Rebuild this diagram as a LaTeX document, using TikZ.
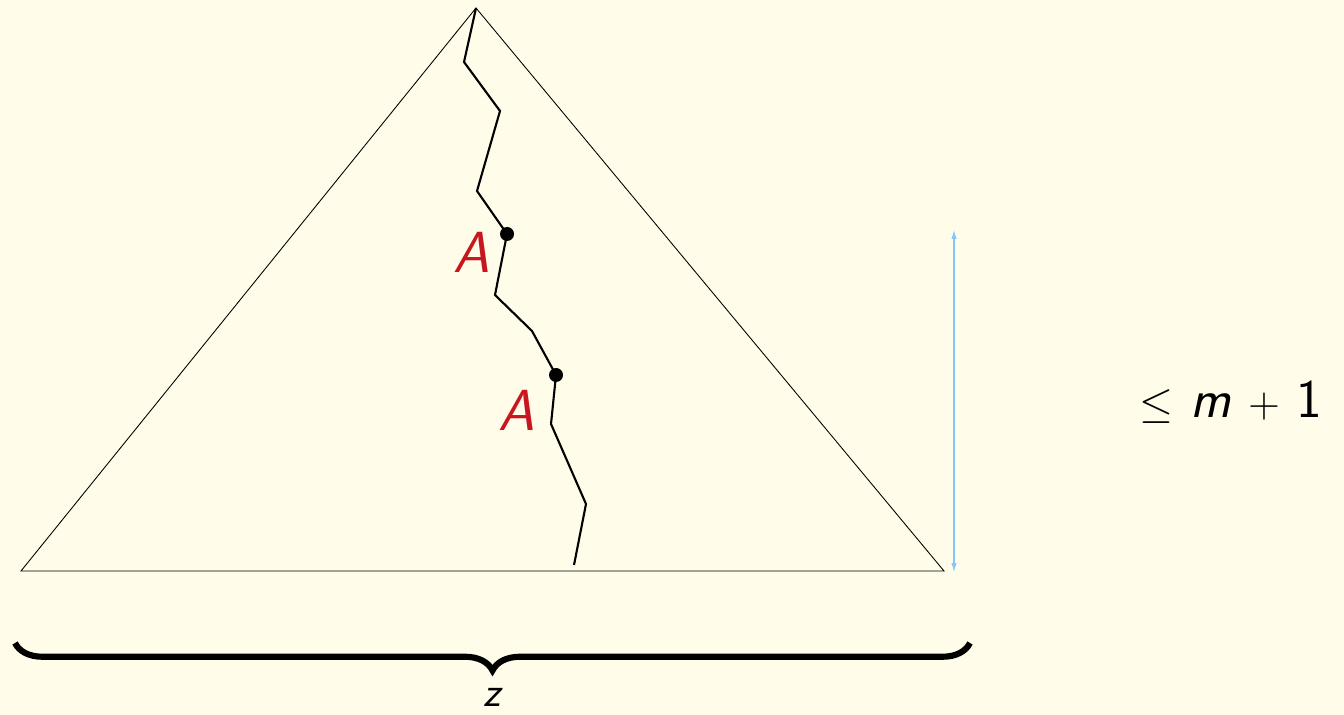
\documentclass[tikz,border=0pt]{standalone}
\usetikzlibrary{decorations.pathreplacing,arrows.meta}
\definecolor{bg}{RGB}{255,252,233}
\definecolor{ared}{RGB}{200,22,32}
\definecolor{ablue}{RGB}{130,200,255}
\begin{document}
\begin{tikzpicture}[x=0.02cm,y=-0.02cm,
  tri/.style={draw=black,line width=0.5pt},
  walk/.style={draw=black,line width=1.2pt,line join=miter},
  dotm/.style={circle,fill=black,inner sep=0pt,minimum size=0.28cm},
  lab/.style={text=ared,font=\fontsize{33}{35}\selectfont\sffamily\itshape,inner sep=0pt},
  bigtxt/.style={font=\fontsize{31}{34}\selectfont\sffamily,inner sep=0pt}]
\fill[bg] (0,0) rectangle (1344,715);
\useasboundingbox (0,0) rectangle (1344,715);
\coordinate (T) at (476,8);
\coordinate (L) at (21,571);
\coordinate (R) at (944,571);
\draw[tri] (L) -- (T) -- (R) -- cycle;
\coordinate (p1) at (464,62);
\coordinate (p2) at (500,111);
\coordinate (p3) at (477,191);
\coordinate (d1) at (507,234);
\coordinate (p4) at (495,295);
\coordinate (p5) at (532,331);
\coordinate (d2) at (556,375);
\coordinate (p6) at (551,424);
\coordinate (p7) at (586,504);
\coordinate (p8) at (574,565);
\draw[walk] (T) -- (p1) -- (p2) -- (p3) -- (d1) -- (p4) -- (p5) -- (d2) -- (p6) -- (p7) -- (p8);
\node[dotm] (n1) at (d1) {};
\node[dotm] (n2) at (d2) {};
\node[lab] (a1) at (472,252) {A};
\node[lab] (a2) at (517,410) {A};
\coordinate (up) at (954,230);
\coordinate (dn) at (954,572);
\draw[ablue,line width=0.6pt,{Latex[length=5pt,width=3pt]}-{Latex[length=5pt,width=3pt]}] (up) -- (dn);
\node[bigtxt] (lbl) at (1231,402) {$\leq$ \textit{m} $+$ 1};
\coordinate (b1) at (15,643);
\coordinate (b2) at (970,643);
\draw[line width=3.5pt,decorate,decoration={brace,mirror,amplitude=0.55cm}] (b1) -- (b2);
\node[font=\fontsize{24}{26}\selectfont\sffamily\itshape,inner sep=0pt] (z) at (492,697) {z};
\end{tikzpicture}
\end{document}
